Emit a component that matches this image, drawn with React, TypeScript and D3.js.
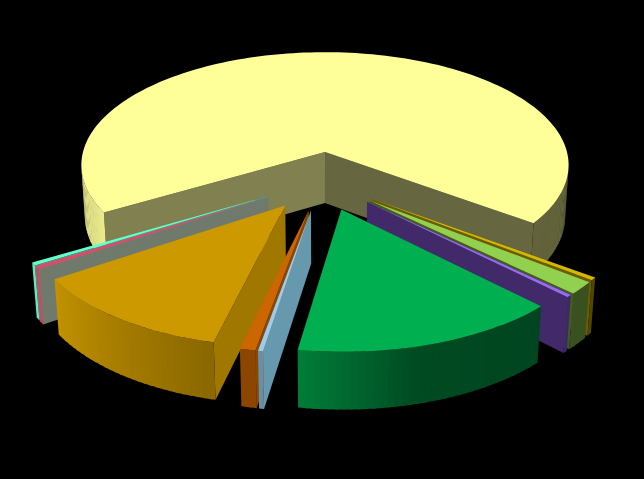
import * as d3 from 'd3'
import React from 'react'

const WIDTH = 644
const HEIGHT = 479

// slice shares in percent, clockwise, starting at the big slice
const values = [68.7, 0.4, 1.65, 0.3, 15.0, 0.28, 0.87, 11.98, 0.42, 0.4]
const topColors = ['#ffff99', '#d4b800', '#92d050', '#9966ff', '#00b050', '#99ccee', '#cc6600', '#cc9900', '#e04868', '#66ffcc']
const wallColors = ['#808050', '#6b5c00', '#44582a', '#41296a', '#00582c', '#6699ad', '#8a4800', '#a07800', '#6f7a6c', '#44a088']
const rimAngles = [150, 180, 205, 214, 256, 262, 285, 330, 365, 400]
const rimShades = [0.85, 0.88, 0.88, 0.95, 0.68, 0.7, 0.42, 0.38, 0.41, 0.6]

type P = [number, number]
type Slice = { index: number; a0: number; a1: number; mid: number; ox: number; oy: number }

const START_DEG = 239.3
const EXPLODE = 0.25
const PIE_X = -0.013
const PIE_Y = -0.25
const THICK = 0.24

const TILT_S = 0.46
const TILT_C = 0.888
const PERSP = 0.115
const FOCAL = 242
const ORIGIN_X = 325
const ORIGIN_Y = 152
const DIST = TILT_C / PERSP

const rad = (d: number) => (d * Math.PI) / 180

// plane coordinates (y away from the viewer) to screen
const project = (x: number, y: number, z: number): P => {
  const w = 1 + PERSP * y - (TILT_S / DIST) * z
  return [ORIGIN_X + (FOCAL * x) / w, ORIGIN_Y - (FOCAL * (y * TILT_S + z * TILT_C)) / w]
}

const camY = -DIST * TILT_C

const shade = d3.scaleLinear<number>().domain(rimAngles).range(rimShades)
const line = d3.line<P>()

const pie = d3
  .pie<number>()
  .sort(null)
  .startAngle(rad(START_DEG))
  .endAngle(rad(START_DEG + 360))

const slices: Slice[] = pie(values).map((d, index) => {
  // d3 angle is clockwise from the top, here it is counter-clockwise from +x
  const a0 = 90 - (d.endAngle * 180) / Math.PI
  const a1 = 90 - (d.startAngle * 180) / Math.PI
  const mid = (a0 + a1) / 2
  return {
    index,
    a0,
    a1,
    mid,
    ox: PIE_X + EXPLODE * Math.cos(rad(mid)),
    oy: PIE_Y + EXPLODE * Math.sin(rad(mid)),
  }
})

const depth = (s: Slice) => s.oy + 0.5 * Math.sin(rad(s.mid))
const ordered = [...slices].sort((a, b) => depth(b) - depth(a))

const facing = (px: number, py: number, nx: number, ny: number) =>
  (0 - px) * nx + (camY - py) * ny > 0

const dim = (color: string, k: number) => {
  const c = d3.rgb(color)
  return d3.rgb(c.r * k, c.g * k, c.b * k).formatRgb()
}

const rimColor = (color: string, a: number) => {
  const n = ((a % 360) + 360) % 360
  const wrapped = n < 150 ? n + 360 : n
  return dim(color, shade(Math.min(wrapped, 400)))
}

const SliceShape = ({ s }: { s: Slice }) => {
  const top = topColors[s.index]
  const wall = wallColors[s.index]
  const angles = d3.range(s.a0, s.a1, 1.5).concat(s.a1)
  const rimPt = (a: number, z: number) =>
    project(s.ox + Math.cos(rad(a)), s.oy + Math.sin(rad(a)), z)

  const topPoly: P[] = [project(s.ox, s.oy, 0), ...angles.map((a) => rimPt(a, 0))]

  const walls = [
    { a: s.a0, nx: Math.cos(rad(s.a0 - 90)), ny: Math.sin(rad(s.a0 - 90)) },
    { a: s.a1, nx: Math.cos(rad(s.a1 + 90)), ny: Math.sin(rad(s.a1 + 90)) },
  ].filter((w) => facing(s.ox, s.oy, w.nx, w.ny))

  // right hand wall of the big slice is darker than the left one
  const wallFill = (a: number) => (s.index === 0 && a === s.a0 ? '#666640' : wall)

  const rimQuads = d3.pairs(angles).filter(([a, b]) => {
    const m = (a + b) / 2
    const nx = Math.cos(rad(m))
    const ny = Math.sin(rad(m))
    return facing(s.ox + nx, s.oy + ny, nx, ny)
  })

  return (
    <g>
      {walls.map((w) => {
        const poly: P[] = [
          project(s.ox, s.oy, 0),
          rimPt(w.a, 0),
          rimPt(w.a, -THICK),
          project(s.ox, s.oy, -THICK),
        ]
        return <path key={w.a} d={line(poly) + 'Z'} fill={wallFill(w.a)} />
      })}
      {rimQuads.map(([a, b]) => {
        // each band runs a little under the next one so no seams show
        const end = Math.min(b + 0.5, s.a1)
        const poly: P[] = [rimPt(a, 0), rimPt(end, 0), rimPt(end, -THICK), rimPt(a, -THICK)]
        return <path key={a} d={line(poly) + 'Z'} fill={rimColor(top, (a + b) / 2)} />
      })}
      <path d={line(topPoly) + 'Z'} fill={top} />
    </g>
  )
}

export default function App() {
  return (
    <svg
      width={WIDTH}
      height={HEIGHT}
      style={{ position: 'fixed', left: 0, top: 0, display: 'block', background: '#000' }}
    >
      {ordered.map((s) => (
        <SliceShape key={s.index} s={s} />
      ))}
    </svg>
  )
}
